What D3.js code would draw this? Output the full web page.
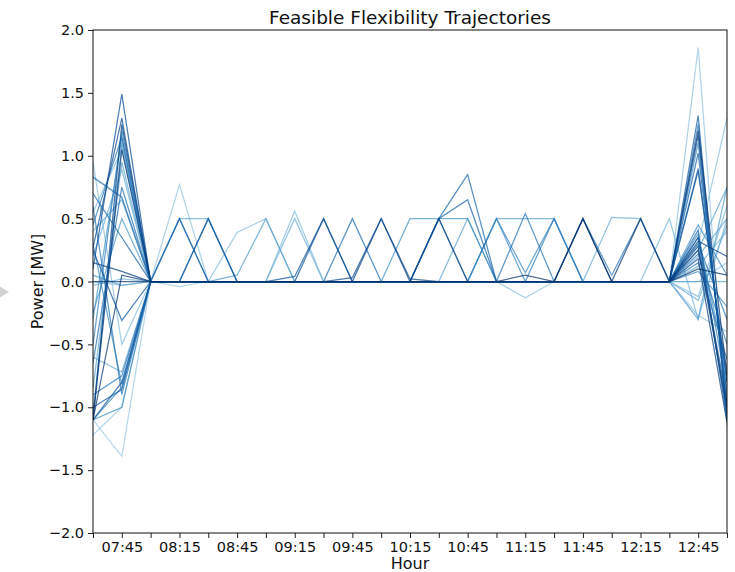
<!DOCTYPE html>
<html>
<head>
<meta charset="utf-8">
<script src="https://cdn.jsdelivr.net/npm/d3@7"></script>
<style>
  body { margin: 0; background: #fff; }
  text { font-family: "DejaVu Sans", sans-serif; fill: #111; }
</style>
</head>
<body>
<svg id="chart" width="735" height="572"></svg>
<script>
// Quarter-hour time steps of the trajectories
const timeLabels = ["07:30","07:45","08:00","08:15","08:30","08:45","09:00","09:15","09:30","09:45",
  "10:00","10:15","10:30","10:45","11:00","11:15","11:30","11:45","12:00","12:15","12:30","12:45","13:00"];

// Power axis ticks [MW]
const powerTicks = [-2.0, -1.5, -1.0, -0.5, 0.0, 0.5, 1.0, 1.5, 2.0];

// Feasible power trajectories [MW], one row per trajectory, one value per time step
const trajectories = [
  [-1.10,-1.39,0,-0.04,0,0,0,0,0,0,0,0,0,0,0,0,0,0,0,0,0,0.00,0.15],
  [-1.22,-1.00,0,0.77,0,0,0,0,0,0,0,0,0,0,0,0,0,0,0,0,0,1.86,-1.15],
  [0.00,-0.03,0,0,0,0,0,0,0,0,0,0,0,0,0,-0.13,0,0,0,0,0,-0.27,-0.40],
  [0.95,-0.50,0,0,0,0.39,0.50,0,0,0,0,0,0,0,0,0,0,0,0,0,0,0.30,1.30],
  [0.55,1.05,0,0,0,0,0,0.56,0,0,0,0,0,0,0,0,0,0,0,0,0,-0.12,0.60],
  [-0.03,0.02,0,0,0,0,0,0,0,0,0,0,0,0,0,0,0,0,0,0,0.50,-0.30,0.50],
  [0.20,0.89,0,0,0,0,0,0.50,0,0,0,0,0,0,0,0,0,0,0,0,0,0.12,0.40],
  [-0.60,-0.72,0,0,0,0,0,0,0,0,0,0,0,0,0,0,0,0,0.51,0.50,0,-0.15,0.45],
  [0.40,0.65,0,0.50,0.50,0,0,0,0,0,0,0,0,0,0,0,0,0,0,0,0,0.20,0.50],
  [-0.85,0.95,0,0,0,0,0,0,0,0,0,0,0,0.50,0,0,0,0,0,0,0,0.25,0.75],
  [0.05,-0.03,0,0,0,0,0,0,0,0,0,0,0,0,0.50,0.50,0.50,0,0,0,0,0.00,0.00],
  [-0.25,0.50,0,0,0,0.05,0.50,0,0,0,0,0,0,0,0,0,0,0,0,0,0,-0.30,0.75],
  [-0.30,1.14,0,0.50,0,0,0,0,0,0,0,0,0,0,0,0,0,0,0,0,0,1.10,-0.95],
  [-1.05,1.10,0,0,0,0,0,0,0,0,0,0.50,0.50,0,0,0,0,0,0,0,0,0.35,-0.70],
  [-1.10,-1.00,0,0,0,0,0,0,0,0,0,0,0.50,0.50,0,0,0,0,0,0,0,0.45,0.05],
  [0.30,-0.82,0,0,0,0,0,0,0,0,0,0,0,0,0.50,0,0,0,0,0,0,0.08,-0.20],
  [-1.10,-0.84,0,0,0,0,0,0,0,0,0,0,0,0,0.50,0.07,0.50,0,0,0,0,0.38,-0.85],
  [-0.50,1.20,0,0,0,0,0,0,0,0,0,0,0,0,0,0,0.50,0,0,0,0,1.25,-1.05],
  [0.60,-0.90,0,0,0.50,0,0,0,0,0,0,0,0,0,0,0,0,0,0,0,0,0.22,-0.50],
  [-0.90,-0.75,0,0,0,0,0,0,0,0,0,0,0,0,0,0,0,0.50,0.05,0.50,0,0.30,-0.30],
  [0.45,1.15,0,0,0,0,0,0,0,0,0,0,0,0,0,0.54,0,0,0,0,0,0.15,-0.62],
  [-0.65,0.75,0,0,0,0,0,0,0,0.50,0,0,0,0,0,0,0,0,0,0,0,0.90,-0.80],
  [0.83,0.67,0,0,0,0,0,0,0,0,0,0,0.50,0.85,0,0,0,0,0,0,0,0.41,-1.10],
  [0.70,0.35,0,0,0,0,0,0,0,0,0,0,0.50,0.65,0,0,0,0,0,0,0,1.02,-0.90],
  [-1.00,-0.86,0,0.50,0,0,0,0,0,0,0,0,0,0,0,0,0,0,0,0,0,1.32,-1.10],
  [-1.10,-0.80,0,0,0.50,0,0,0,0,0,0,0,0,0,0,0,0,0,0,0,0,1.16,-1.00],
  [0.25,-0.31,0,0,0,0,0,0.04,0.50,0,0,0,0,0,0,0,0,0,0,0,0,0.88,-0.80],
  [0.10,1.49,0,0,0,0,0,0,0.50,0,0,0,0,0,0,0,0,0,0,0,0,0.35,-1.05],
  [0.27,1.30,0,0,0,0,0,0,0,0.03,0.50,0,0,0,0,0,0,0,0,0,0,0.28,-0.95],
  [-1.10,1.25,0,0,0,0,0,0,0,0,0.50,0.02,0,0,0,0,0,0,0,0,0,0.18,-1.12],
  [0.15,0.08,0,0,0,0,0,0,0,0,0,0,0.50,0,0,0,0,0,0,0,0,0.32,0.20],
  [-1.10,1.05,0,0,0,0,0,0,0,0,0,0,0,0,0,0,0,0.50,0,0,0,0.25,-1.00],
  [-1.10,0.05,0,0,0,0,0,0,0,0,0,0,0,0,0,0,0,0,0,0.50,0,1.20,-0.75],
  [0.00,0.00,0,0,0,0,0,0,0,0,0,0,0,0,0,0.05,0,0.50,0,0,0,0.10,0.05]
];

const svg = d3.select("#chart");
const margin = { left: 93, right: 8, top: 30, bottom: 39 };
const W = 735, H = 572;

const parseTime = d3.timeParse("%H:%M");
const times = timeLabels.map(parseTime);

const x = d3.scaleTime()
  .domain([times[0], times[times.length - 1]])
  .range([margin.left, W - margin.right]);
const y = d3.scaleLinear()
  .domain([-2, 2])
  .range([H - margin.bottom, margin.top]);

// small side-panel arrow glyph at the left edge
svg.append("path")
  .attr("d", "M0,286.5 L9,292 L0,297.5 Z")
  .attr("fill", "#d2d2d2");

svg.append("clipPath").attr("id", "plotClip")
  .append("rect")
  .attr("x", margin.left).attr("y", margin.top)
  .attr("width", W - margin.right - margin.left)
  .attr("height", H - margin.bottom - margin.top);

// trajectories, coloured along the Blues ramp
const n = trajectories.length;
const colour = i => d3.interpolateBlues(0.38 + 0.62 * i / (n - 1));
const line = d3.line()
  .x((d, i) => x(times[i]))
  .y(d => y(d));

svg.append("g")
  .attr("clip-path", "url(#plotClip)")
  .selectAll("path")
  .data(trajectories)
  .join("path")
  .attr("d", line)
  .attr("fill", "none")
  .attr("stroke", (d, i) => colour(i))
  .attr("stroke-opacity", 0.72)
  .attr("stroke-width", 1.25)
  .attr("stroke-linejoin", "miter");

// axes
const fmtTime = d3.timeFormat("%H:%M");
const xAxis = d3.axisBottom(x)
  .tickValues(times)
  .tickSize(5)
  .tickSizeOuter(0)
  .tickPadding(4)
  .tickFormat(d => (d.getMinutes() % 30 === 15 ? fmtTime(d) : ""));

const yAxis = d3.axisLeft(y)
  .tickValues(powerTicks)
  .tickSize(5)
  .tickSizeOuter(0)
  .tickPadding(4)
  .tickFormat(d3.format(".1f"));

const gx = svg.append("g")
  .attr("transform", `translate(0,${H - margin.bottom})`)
  .call(xAxis);
const gy = svg.append("g")
  .attr("transform", `translate(${margin.left},0)`)
  .call(yAxis);

[gx, gy].forEach(g => {
  g.select(".domain").remove();
  g.selectAll(".tick line").attr("stroke", "#222").attr("stroke-width", 1);
  g.selectAll(".tick text").attr("font-size", 14.5).attr("fill", "#111")
    .attr("font-family", "DejaVu Sans, sans-serif");
});

// frame
svg.append("rect")
  .attr("x", margin.left).attr("y", margin.top)
  .attr("width", W - margin.right - margin.left)
  .attr("height", H - margin.bottom - margin.top)
  .attr("fill", "none")
  .attr("stroke", "#111")
  .attr("stroke-width", 1);

// title and axis labels
svg.append("text")
  .attr("x", (margin.left + W - margin.right) / 2)
  .attr("y", 24)
  .attr("text-anchor", "middle")
  .attr("font-size", 18.5)
  .text("Feasible Flexibility Trajectories");

svg.append("text")
  .attr("x", (margin.left + W - margin.right) / 2)
  .attr("y", 569)
  .attr("text-anchor", "middle")
  .attr("font-size", 16)
  .text("Hour");

svg.append("text")
  .attr("transform", `translate(43,${(margin.top + H - margin.bottom) / 2}) rotate(-90)`)
  .attr("text-anchor", "middle")
  .attr("font-size", 16)
  .text("Power [MW]");
</script>
</body>
</html>
